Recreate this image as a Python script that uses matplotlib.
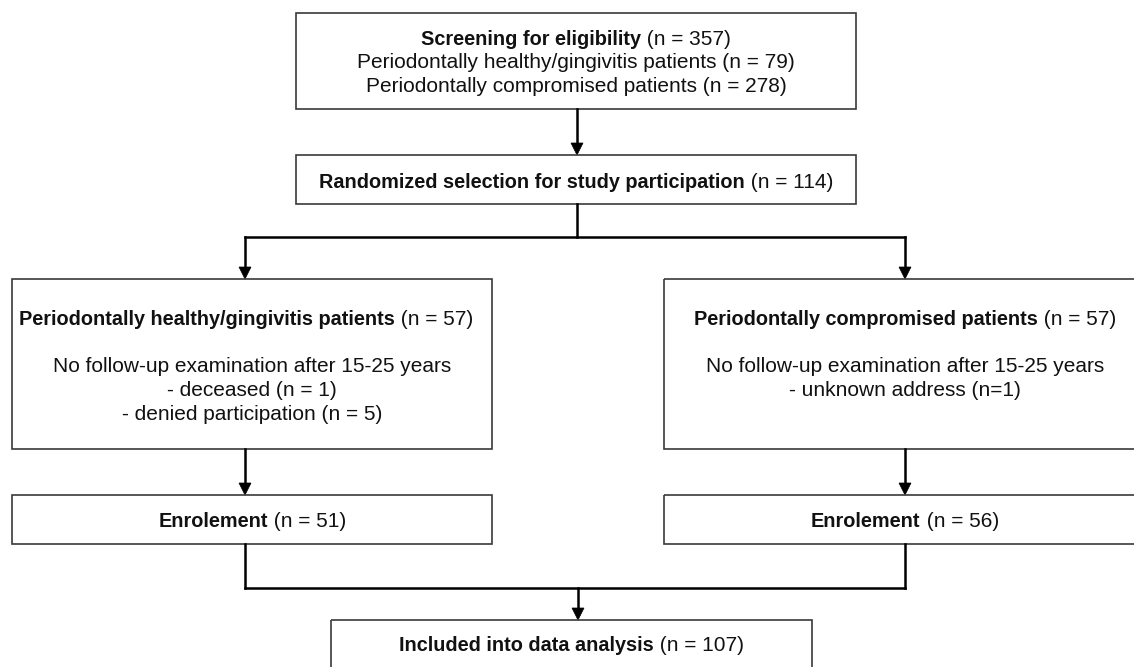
import matplotlib
matplotlib.use("Agg")
import matplotlib.pyplot as plt
from matplotlib.patches import Rectangle, Polygon

plt.rcParams['font.family'] = ['Liberation Sans', 'DejaVu Sans']

# ---------------- data (text content of the flow chart) ----------------
screening_title = "Screening for eligibility"
screening_n = 357
screen_groups = ["Periodontally healthy/gingivitis patients",
                 "Periodontally compromised patients"]
screen_group_n = [79, 278]
random_title = "Randomized selection for study participation"
random_n = 114
arm_titles = ["Periodontally healthy/gingivitis patients",
              "Periodontally compromised patients"]
arm_n = [57, 57]
followup_header = "No follow-up examination after 15-25 years"
dropout_lines = [["- deceased (n = 1)", "- denied participation (n = 5)"],
                 ["- unknown address (n=1)"]]
enrol_title = "Enrolement"
enrol_n = [51, 56]
analysis_title = "Included into data analysis"
analysis_n = 107

# ---------------- layout ----------------
W, H = 1134, 667
FS = 15
FS_BOLD = 14.3
TXT = "#111111"
EDGE = "#3a3a3a"

fig = plt.figure(figsize=(W / 100, H / 100), dpi=100)
ax = fig.add_axes([0, 0, 1, 1])
ax.set_xlim(0, W)
ax.set_ylim(H, 0)
ax.axis("off")
renderer = fig.canvas.get_renderer()


def box(x0, y0, x1, y1):
    ax.add_patch(Rectangle((x0, y0), x1 - x0, y1 - y0, fill=False,
                           edgecolor=EDGE, linewidth=1.2, zorder=2))


def rich_line(xc, y, parts):
    texts = []
    for s, bold in parts:
        t = ax.text(0, y, s, fontsize=FS_BOLD if bold else FS,
                    fontweight="bold" if bold else "normal",
                    va="baseline", ha="left", color=TXT, zorder=3)
        texts.append(t)
    widths = [t.get_window_extent(renderer).width for t in texts]
    x = xc - sum(widths) / 2
    for t, w in zip(texts, widths):
        t.set_x(x)
        x += w


def seg(xs, ys):
    ax.plot(xs, ys, color="black", linewidth=1.8, solid_capstyle="projecting",
            solid_joinstyle="miter", zorder=2)


def arrow(x, y0, y1):
    hl, hw = 12, 6
    seg([x, x], [y0, y1 - hl + 1])
    ax.add_patch(Polygon([[x - hw, y1 - hl], [x + hw, y1 - hl], [x, y1]],
                         closed=True, facecolor="black", edgecolor="black",
                         linewidth=0.5, zorder=2))


# Box 1: screening
box(296, 12.5, 856, 109)
rich_line(576, 45, [(screening_title, True), (f" (n = {screening_n})", False)])
for i, (g, n) in enumerate(zip(screen_groups, screen_group_n)):
    rich_line(576, 68 + 23.5 * i, [(f"{g} (n = {n})", False)])

arrow(577, 109, 155)

# Box 2: randomized selection
box(296, 155, 856, 204)
rich_line(576, 188, [(random_title, True), (f" (n = {random_n})", False)])

# split
seg([577, 577], [204, 237])
seg([245, 905], [237, 237])
arrow(245, 237, 279)
arrow(905, 237, 279)

# arm boxes
arm_boxes = [(12, 279, 492, 449), (664, 279, 1146, 449)]
arm_centers = [252, 905]
arm_x = [245, 905]
for k in range(2):
    x0, y0, x1, y1 = arm_boxes[k]
    box(x0, y0, x1, y1)
    xc = arm_centers[k]
    rich_line(xc if k else 246, 325, [(arm_titles[k], True), (f" (n = {arm_n[k]})", False)])
    rich_line(xc, 372, [(followup_header, False)])
    for j, line in enumerate(dropout_lines[k]):
        rich_line(xc, 396 + 23.5 * j, [(line, False)])
    arrow(arm_x[k], 449, 495)

# enrolment boxes
enrol_boxes = [(12, 495, 492, 544), (664, 495, 1146, 544)]
for k in range(2):
    x0, y0, x1, y1 = enrol_boxes[k]
    box(x0, y0, x1, y1)
    rich_line(arm_centers[k], 527, [(enrol_title, True), (f" (n = {enrol_n[k]})", False)])
    seg([arm_x[k], arm_x[k]], [544, 588])

seg([245, 905], [588, 588])
arrow(578, 588, 620)

# final box
box(331, 620, 812, 700)
rich_line(571.5, 651, [(analysis_title, True), (f" (n = {analysis_n})", False)])

fig.savefig("out.png", dpi=100, facecolor="white")
